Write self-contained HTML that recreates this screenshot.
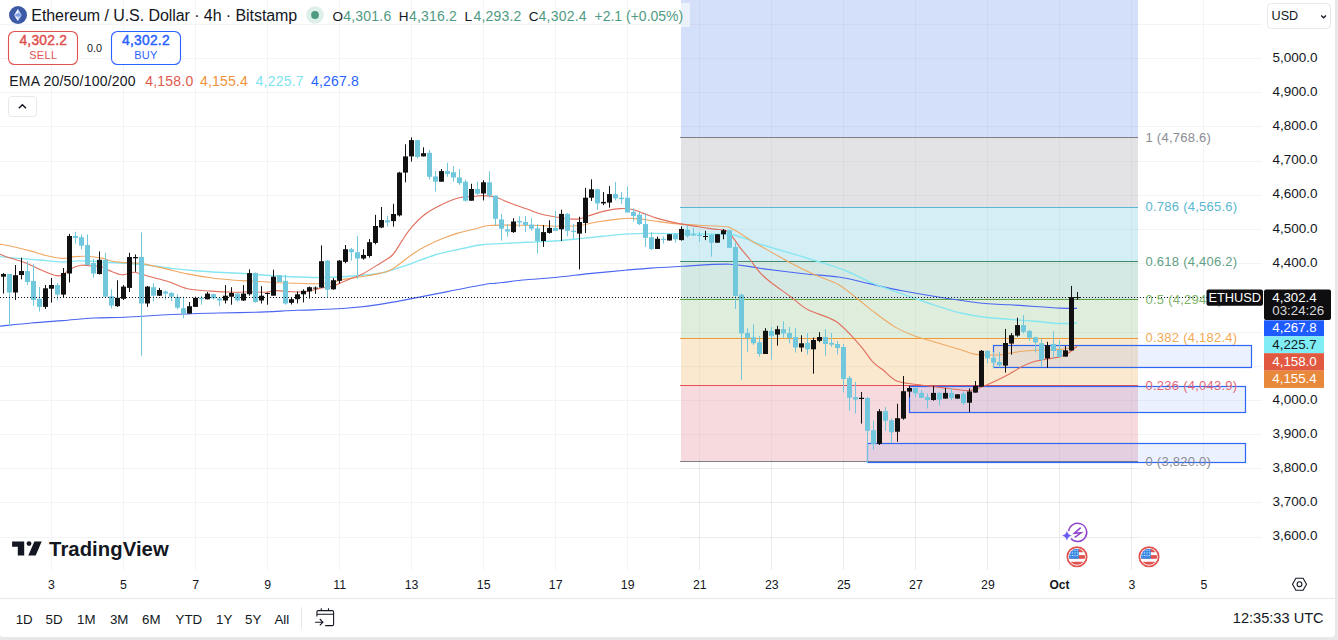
<!DOCTYPE html>
<html><head><meta charset="utf-8"><style>
html,body{margin:0;padding:0;width:1338px;height:640px;overflow:hidden;background:#e8e8e8;font-family:"Liberation Sans", sans-serif;}
#main{position:absolute;left:0;top:0;width:1335px;height:637px;background:#fff;border-radius:0 0 4px 3px;overflow:hidden;}
</style></head><body><div id="main">
<svg width="1335" height="637" style="position:absolute;left:0;top:0;font-family:'Liberation Sans', sans-serif">
<defs><clipPath id="fibclip"><rect x="681" y="0" width="457" height="570"/></clipPath></defs>
<rect x="51" y="0" width="1" height="570" fill="#f3f4f6"/><rect x="123" y="0" width="1" height="570" fill="#f3f4f6"/><rect x="195" y="0" width="1" height="570" fill="#f3f4f6"/><rect x="267" y="0" width="1" height="570" fill="#f3f4f6"/><rect x="339" y="0" width="1" height="570" fill="#f3f4f6"/><rect x="411" y="0" width="1" height="570" fill="#f3f4f6"/><rect x="483" y="0" width="1" height="570" fill="#f3f4f6"/><rect x="555" y="0" width="1" height="570" fill="#f3f4f6"/><rect x="627" y="0" width="1" height="570" fill="#f3f4f6"/><rect x="699" y="0" width="1" height="570" fill="#f3f4f6"/><rect x="771" y="0" width="1" height="570" fill="#f3f4f6"/><rect x="843" y="0" width="1" height="570" fill="#f3f4f6"/><rect x="915" y="0" width="1" height="570" fill="#f3f4f6"/><rect x="987" y="0" width="1" height="570" fill="#f3f4f6"/><rect x="1059" y="0" width="1" height="570" fill="#f3f4f6"/><rect x="1131" y="0" width="1" height="570" fill="#f3f4f6"/><rect x="1203" y="0" width="1" height="570" fill="#f3f4f6"/><rect x="0" y="24" width="1262" height="1" fill="#f3f4f6"/><rect x="0" y="58" width="1262" height="1" fill="#f3f4f6"/><rect x="0" y="92" width="1262" height="1" fill="#f3f4f6"/><rect x="0" y="126" width="1262" height="1" fill="#f3f4f6"/><rect x="0" y="161" width="1262" height="1" fill="#f3f4f6"/><rect x="0" y="195" width="1262" height="1" fill="#f3f4f6"/><rect x="0" y="229" width="1262" height="1" fill="#f3f4f6"/><rect x="0" y="263" width="1262" height="1" fill="#f3f4f6"/><rect x="0" y="297" width="1262" height="1" fill="#f3f4f6"/><rect x="0" y="332" width="1262" height="1" fill="#f3f4f6"/><rect x="0" y="366" width="1262" height="1" fill="#f3f4f6"/><rect x="0" y="400" width="1262" height="1" fill="#f3f4f6"/><rect x="0" y="434" width="1262" height="1" fill="#f3f4f6"/><rect x="0" y="468" width="1262" height="1" fill="#f3f4f6"/><rect x="0" y="502" width="1262" height="1" fill="#f3f4f6"/><rect x="0" y="537" width="1262" height="1" fill="#f3f4f6"/>
<rect x="681" y="0" width="457" height="137.7" fill="#d4dff9"/><rect x="681" y="137.7" width="457" height="69.4" fill="#e3e3e5"/><rect x="681" y="207.1" width="457" height="54.5" fill="#d3eef4"/><rect x="681" y="261.5" width="457" height="38.2" fill="#d5e9e4"/><rect x="681" y="299.8" width="457" height="38.2" fill="#dfeddd"/><rect x="681" y="338.0" width="457" height="47.3" fill="#fbe9cf"/><rect x="681" y="385.4" width="457" height="76.5" fill="#f6dadd"/>
<g clip-path="url(#fibclip)"><rect x="51" y="0" width="1" height="570" fill="rgba(120,123,134,0.07)"/><rect x="123" y="0" width="1" height="570" fill="rgba(120,123,134,0.07)"/><rect x="195" y="0" width="1" height="570" fill="rgba(120,123,134,0.07)"/><rect x="267" y="0" width="1" height="570" fill="rgba(120,123,134,0.07)"/><rect x="339" y="0" width="1" height="570" fill="rgba(120,123,134,0.07)"/><rect x="411" y="0" width="1" height="570" fill="rgba(120,123,134,0.07)"/><rect x="483" y="0" width="1" height="570" fill="rgba(120,123,134,0.07)"/><rect x="555" y="0" width="1" height="570" fill="rgba(120,123,134,0.07)"/><rect x="627" y="0" width="1" height="570" fill="rgba(120,123,134,0.07)"/><rect x="699" y="0" width="1" height="570" fill="rgba(120,123,134,0.07)"/><rect x="771" y="0" width="1" height="570" fill="rgba(120,123,134,0.07)"/><rect x="843" y="0" width="1" height="570" fill="rgba(120,123,134,0.07)"/><rect x="915" y="0" width="1" height="570" fill="rgba(120,123,134,0.07)"/><rect x="987" y="0" width="1" height="570" fill="rgba(120,123,134,0.07)"/><rect x="1059" y="0" width="1" height="570" fill="rgba(120,123,134,0.07)"/><rect x="1131" y="0" width="1" height="570" fill="rgba(120,123,134,0.07)"/><rect x="1203" y="0" width="1" height="570" fill="rgba(120,123,134,0.07)"/><rect x="0" y="24" width="1262" height="1" fill="rgba(120,123,134,0.07)"/><rect x="0" y="58" width="1262" height="1" fill="rgba(120,123,134,0.07)"/><rect x="0" y="92" width="1262" height="1" fill="rgba(120,123,134,0.07)"/><rect x="0" y="126" width="1262" height="1" fill="rgba(120,123,134,0.07)"/><rect x="0" y="161" width="1262" height="1" fill="rgba(120,123,134,0.07)"/><rect x="0" y="195" width="1262" height="1" fill="rgba(120,123,134,0.07)"/><rect x="0" y="229" width="1262" height="1" fill="rgba(120,123,134,0.07)"/><rect x="0" y="263" width="1262" height="1" fill="rgba(120,123,134,0.07)"/><rect x="0" y="297" width="1262" height="1" fill="rgba(120,123,134,0.07)"/><rect x="0" y="332" width="1262" height="1" fill="rgba(120,123,134,0.07)"/><rect x="0" y="366" width="1262" height="1" fill="rgba(120,123,134,0.07)"/><rect x="0" y="400" width="1262" height="1" fill="rgba(120,123,134,0.07)"/><rect x="0" y="434" width="1262" height="1" fill="rgba(120,123,134,0.07)"/><rect x="0" y="468" width="1262" height="1" fill="rgba(120,123,134,0.07)"/><rect x="0" y="502" width="1262" height="1" fill="rgba(120,123,134,0.07)"/><rect x="0" y="537" width="1262" height="1" fill="rgba(120,123,134,0.07)"/></g>
<rect x="680" y="137" width="458" height="1" fill="#7d7f88"/><rect x="680" y="207" width="458" height="1" fill="#5cb8d2"/><rect x="680" y="261" width="458" height="1" fill="#3f8a6c"/><rect x="680" y="299" width="458" height="1" fill="#5e9f46"/><rect x="680" y="338" width="458" height="1" fill="#ee9a35"/><rect x="680" y="385" width="458" height="1" fill="#e3505a"/><rect x="680" y="461" width="458" height="1" fill="#7d7f88"/>
<rect x="993.5" y="345.5" width="258.0" height="22.0" fill="rgba(41,98,255,0.09)" stroke="#2e66f5" stroke-width="1.2"/><rect x="909.5" y="386.5" width="336.0" height="26.0" fill="rgba(41,98,255,0.09)" stroke="#2e66f5" stroke-width="1.2"/><rect x="867.5" y="443.5" width="378.0" height="19.0" fill="rgba(41,98,255,0.09)" stroke="#2e66f5" stroke-width="1.2"/>
<path d="M0.0,326.1 C5.2,325.6 20.9,323.9 31.3,323.0 C41.7,322.1 52.1,321.4 62.5,320.6 C72.9,319.8 83.4,318.6 93.8,318.0 C104.2,317.4 112.0,317.8 125.0,317.2 C138.0,316.6 156.3,315.2 171.9,314.5 C187.5,313.8 205.0,313.4 218.8,313.0 C232.7,312.6 242.0,312.6 255.0,312.2 C268.0,311.8 283.1,310.9 296.9,310.3 C310.6,309.7 323.6,309.8 337.5,308.8 C351.4,307.8 356.2,308.3 380.0,304.4 C403.8,300.5 460.8,288.8 480.0,285.3 C499.2,281.8 487.3,284.3 495.0,283.4 C502.7,282.5 515.9,280.8 526.3,279.8 C536.7,278.8 547.1,278.2 557.5,277.2 C567.9,276.2 577.5,274.8 588.8,273.6 C600.0,272.5 614.6,271.2 625.0,270.3 C635.4,269.4 641.7,268.8 651.3,268.1 C660.9,267.4 669.5,267.0 682.5,266.3 C695.5,265.6 716.5,263.9 729.4,264.2 C742.3,264.5 747.6,266.7 760.0,268.3 C772.4,269.9 790.6,272.2 803.7,273.7 C816.8,275.1 827.8,275.4 838.7,277.0 C849.6,278.6 858.7,281.3 869.3,283.6 C879.9,285.9 889.3,288.4 902.1,290.8 C914.9,293.2 932.1,296.1 945.9,298.2 C959.7,300.3 974.3,302.4 985.0,303.5 C995.7,304.6 1001.7,304.3 1010.0,304.8 C1018.3,305.3 1026.7,305.9 1035.0,306.5 C1043.3,307.1 1053.0,307.8 1060.0,308.1 C1067.0,308.4 1074.2,308.3 1077.0,308.4" fill="none" stroke="#4a66f2" stroke-width="1.15" stroke-linejoin="round"/><path d="M0.0,256.6 C2.6,256.9 9.1,257.5 15.6,258.1 C22.1,258.7 31.2,259.4 39.0,260.0 C46.8,260.6 56.0,261.9 62.5,262.0 C69.0,262.1 72.8,261.0 78.0,260.9 C83.2,260.8 88.6,261.0 93.8,261.3 C99.0,261.6 104.2,262.2 109.4,262.5 C114.6,262.8 118.5,262.8 125.0,263.3 C131.5,263.8 140.6,264.5 148.4,265.3 C156.2,266.1 164.1,267.5 171.9,268.4 C179.7,269.3 187.5,270.1 195.3,270.8 C203.1,271.5 210.2,271.8 218.8,272.3 C227.4,272.8 236.5,273.2 246.9,273.9 C257.3,274.6 270.4,275.7 281.3,276.3 C292.2,276.9 303.1,277.4 312.5,277.5 C321.9,277.6 329.7,277.3 337.5,277.0 C345.3,276.7 352.3,276.1 359.4,275.5 C366.5,274.9 374.5,274.1 380.0,273.2 C385.5,272.2 387.3,271.4 392.5,269.8 C397.7,268.2 404.3,266.1 411.3,263.6 C418.3,261.1 426.9,257.4 434.7,255.0 C442.5,252.7 450.2,251.2 458.0,249.5 C465.8,247.8 475.4,245.7 481.6,244.8 C487.8,243.9 487.6,244.3 495.0,243.9 C502.4,243.5 515.9,242.8 526.3,242.3 C536.7,241.8 548.1,241.5 557.5,240.8 C566.9,240.2 574.7,239.2 582.5,238.4 C590.3,237.6 597.3,236.8 604.4,236.1 C611.5,235.4 617.2,234.5 625.0,234.1 C632.8,233.7 641.7,233.4 651.3,233.4 C660.9,233.4 672.1,233.7 682.5,233.8 C692.9,233.9 705.5,234.0 713.8,234.2 C722.1,234.3 726.5,233.7 732.5,234.7 C738.5,235.7 745.4,238.7 750.0,240.3 C754.6,241.9 748.1,240.5 760.0,244.2 C771.9,247.9 806.6,257.8 821.2,262.4 C835.8,266.9 838.8,268.0 847.5,271.5 C856.2,275.0 861.7,278.9 873.7,283.6 C885.7,288.4 908.7,296.2 919.4,300.0 C930.1,303.8 931.1,304.1 938.1,306.3 C945.1,308.5 953.8,311.5 961.6,313.3 C969.4,315.1 976.9,316.3 985.0,317.3 C993.1,318.3 1001.7,318.7 1010.0,319.4 C1018.3,320.1 1026.7,320.6 1035.0,321.3 C1043.3,322.0 1053.0,323.2 1060.0,323.5 C1067.0,323.8 1074.2,322.9 1077.0,322.8" fill="none" stroke="#86e6f1" stroke-width="1.4" stroke-linejoin="round"/><path d="M0.0,244.1 C2.6,244.6 10.4,246.0 15.6,247.2 C20.8,248.4 26.1,249.7 31.3,251.1 C36.5,252.5 41.7,254.6 46.9,255.8 C52.1,257.0 57.8,258.3 62.5,258.4 C67.2,258.5 70.8,257.0 75.0,256.6 C79.2,256.2 83.1,256.1 87.5,256.3 C91.9,256.6 97.4,257.3 101.6,258.1 C105.8,258.9 108.6,260.6 112.5,261.3 C116.4,262.1 120.3,262.2 125.0,262.6 C129.7,263.0 134.1,262.4 140.6,263.4 C147.1,264.4 156.2,266.6 164.0,268.4 C171.8,270.1 179.7,272.3 187.5,273.9 C195.3,275.5 203.1,276.8 210.9,277.8 C218.7,278.9 227.9,279.7 234.4,280.2 C240.9,280.7 243.5,280.5 250.0,280.9 C256.5,281.3 265.6,282.1 273.4,282.5 C281.2,282.9 289.9,283.1 296.9,283.3 C303.9,283.5 309.9,283.9 315.6,283.8 C321.3,283.7 326.6,283.2 331.3,282.5 C336.0,281.8 339.1,280.3 343.8,279.4 C348.5,278.5 353.4,278.0 359.4,277.0 C365.4,276.0 374.5,274.7 380.0,273.4 C385.5,272.1 387.3,272.1 392.5,269.0 C397.7,265.9 406.1,258.6 411.3,255.0 C416.5,251.4 418.6,249.9 423.8,247.2 C429.0,244.5 436.8,240.9 442.5,238.6 C448.2,236.2 452.8,234.7 458.0,233.1 C463.2,231.5 468.6,230.5 473.8,229.2 C479.0,227.9 482.0,226.2 489.4,225.5 C496.8,224.8 509.6,225.2 518.4,225.2 C527.1,225.2 534.1,225.4 541.9,225.6 C549.7,225.8 558.8,226.4 565.3,226.3 C571.8,226.2 575.7,225.9 580.9,225.2 C586.1,224.5 590.1,223.1 596.6,222.0 C603.1,220.9 614.0,219.5 620.0,218.9 C626.0,218.3 627.3,218.1 632.5,218.4 C637.7,218.7 644.3,219.6 651.3,220.5 C658.3,221.4 666.9,222.8 674.7,223.6 C682.5,224.4 689.5,224.7 698.1,225.2 C706.7,225.7 720.6,226.0 726.3,226.7 C732.0,227.3 729.9,227.8 732.5,229.1 C735.1,230.4 739.0,232.7 741.9,234.5 C744.8,236.3 747.0,238.1 750.0,240.0 C753.0,241.9 753.6,242.1 760.0,245.7 C766.4,249.3 779.3,256.8 788.4,261.7 C797.5,266.6 806.3,271.0 814.7,274.8 C823.1,278.6 831.2,280.4 838.7,284.7 C846.2,289.0 854.4,296.4 860.0,300.8 C865.6,305.2 866.8,306.6 872.5,310.9 C878.2,315.2 887.4,322.4 894.4,326.6 C901.4,330.8 907.4,333.2 914.7,335.9 C922.0,338.6 930.3,340.6 938.1,343.0 C945.9,345.4 955.4,348.1 961.6,350.0 C967.9,351.9 969.6,353.6 975.6,354.4 C981.6,355.2 991.8,355.2 997.5,355.0 C1003.2,354.8 1005.8,353.7 1010.0,353.1 C1014.2,352.5 1018.3,351.8 1022.5,351.3 C1026.7,350.8 1030.8,350.5 1035.0,350.3 C1039.2,350.1 1043.3,350.1 1047.5,350.0 C1051.7,349.9 1055.1,349.8 1060.0,349.4 C1064.9,348.9 1074.2,347.6 1077.0,347.3" fill="none" stroke="#efa864" stroke-width="1.1" stroke-linejoin="round"/><path d="M0.0,254.2 C1.3,254.7 3.9,256.0 7.8,257.3 C11.7,258.6 18.2,260.1 23.4,262.0 C28.6,263.9 33.8,266.8 39.0,269.0 C44.2,271.2 50.8,274.3 54.7,275.3 C58.6,276.3 59.9,276.1 62.5,275.0 C65.1,273.9 67.2,270.6 70.3,269.0 C73.4,267.4 77.9,265.7 81.3,265.2 C84.7,264.7 87.2,265.6 90.6,265.9 C94.0,266.1 98.5,265.9 101.6,266.7 C104.7,267.5 106.0,269.2 109.4,270.6 C112.8,272.0 117.7,274.5 121.9,274.8 C126.1,275.1 130.0,272.1 134.4,272.3 C138.8,272.6 142.7,274.7 148.4,276.3 C154.1,277.9 162.3,279.6 168.8,281.7 C175.3,283.8 180.5,287.2 187.5,288.8 C194.5,290.4 203.1,290.5 210.9,291.1 C218.7,291.7 227.9,292.1 234.4,292.2 C240.9,292.3 244.8,291.8 250.0,291.8 C255.2,291.8 261.2,292.4 265.6,292.2 C270.0,292.0 272.7,290.7 276.6,290.6 C280.5,290.5 284.3,291.4 289.0,291.6 C293.7,291.8 300.3,292.2 304.7,291.9 C309.1,291.5 312.7,290.1 315.6,289.5 C318.5,288.9 318.8,288.6 321.9,288.0 C325.0,287.4 330.2,286.9 334.4,285.6 C338.6,284.3 342.2,282.1 346.9,280.2 C351.6,278.2 357.0,276.7 362.5,273.9 C368.0,271.1 375.0,266.5 380.0,263.4 C385.0,260.2 388.9,258.8 392.5,255.0 C396.1,251.2 398.8,245.5 401.9,240.9 C405.0,236.3 407.6,232.0 411.3,227.7 C415.0,223.4 419.1,218.8 423.8,215.2 C428.5,211.5 433.7,208.7 439.4,205.8 C445.1,202.9 452.4,199.6 458.1,198.0 C463.8,196.4 469.7,196.8 473.8,196.4 C477.9,196.0 479.5,195.5 483.0,195.6 C486.5,195.7 490.4,195.7 495.0,197.0 C499.6,198.3 505.4,201.3 510.6,203.3 C515.8,205.3 521.1,207.0 526.3,208.8 C531.5,210.6 536.7,212.8 541.9,214.2 C547.1,215.6 552.8,216.5 557.5,217.3 C562.2,218.1 566.4,218.6 570.0,218.9 C573.6,219.2 576.3,219.4 579.4,218.9 C582.5,218.4 584.6,217.1 588.8,215.8 C593.0,214.5 599.2,212.3 604.4,211.1 C609.6,209.9 615.3,208.9 620.0,208.6 C624.7,208.3 628.6,208.7 632.5,209.5 C636.4,210.3 639.0,211.8 643.4,213.4 C647.8,215.0 653.0,217.2 659.0,218.9 C665.0,220.6 672.9,222.3 679.4,223.6 C685.9,224.9 692.4,225.8 698.1,226.7 C703.8,227.6 709.1,228.4 713.8,229.1 C718.5,229.8 723.2,229.3 726.3,230.6 C729.4,231.9 730.2,234.0 732.5,236.9 C734.8,239.8 737.4,244.0 740.3,247.8 C743.2,251.6 746.7,255.4 750.0,259.5 C753.3,263.6 756.5,268.8 760.0,272.6 C763.5,276.4 765.8,278.5 770.9,282.5 C776.0,286.5 784.4,292.1 790.6,296.7 C796.8,301.2 800.5,305.6 808.1,309.8 C815.8,314.0 827.9,315.9 836.5,321.8 C845.1,327.7 854.0,338.7 860.0,345.3 C866.0,351.9 868.6,357.5 872.5,361.7 C876.4,365.9 879.2,367.0 883.4,370.3 C887.6,373.6 891.0,378.8 897.5,381.3 C904.0,383.8 914.2,384.0 922.5,385.2 C930.8,386.4 939.7,387.4 947.5,388.3 C955.3,389.2 963.7,390.9 969.4,390.6 C975.1,390.3 978.5,387.9 981.9,386.7 C985.3,385.5 985.7,385.6 990.0,383.6 C994.3,381.7 1002.1,377.9 1007.5,375.0 C1012.9,372.1 1017.9,368.6 1022.5,366.3 C1027.1,364.0 1030.8,362.6 1035.0,361.3 C1039.2,360.1 1043.3,359.5 1047.5,358.8 C1051.7,358.1 1056.7,357.7 1060.0,356.9 C1063.3,356.1 1064.7,355.6 1067.5,353.8 C1070.3,352.0 1075.4,347.3 1077.0,346.0" fill="none" stroke="#e2705f" stroke-width="1.15" stroke-linejoin="round"/>
<rect x="3" y="273.0" width="1" height="20.6" fill="#111111"/><rect x="1" y="274.0" width="5" height="2.7" fill="#111111"/><rect x="9" y="274.0" width="1" height="52.0" fill="#71c7dc"/><rect x="7" y="274.0" width="5" height="18.5" fill="#71c7dc"/><rect x="15" y="265.0" width="1" height="35.0" fill="#111111"/><rect x="13" y="275.2" width="5" height="17.3" fill="#111111"/><rect x="21" y="257.7" width="1" height="21.7" fill="#111111"/><rect x="19" y="271.0" width="5" height="4.0" fill="#111111"/><rect x="27" y="261.3" width="1" height="23.7" fill="#71c7dc"/><rect x="25" y="271.0" width="5" height="11.0" fill="#71c7dc"/><rect x="33" y="264.0" width="1" height="42.0" fill="#71c7dc"/><rect x="31" y="281.0" width="5" height="19.0" fill="#71c7dc"/><rect x="39" y="287.0" width="1" height="24.5" fill="#71c7dc"/><rect x="37" y="298.8" width="5" height="8.1" fill="#71c7dc"/><rect x="45" y="285.0" width="1" height="24.0" fill="#111111"/><rect x="43" y="288.3" width="5" height="18.6" fill="#111111"/><rect x="51" y="278.0" width="1" height="24.6" fill="#111111"/><rect x="49" y="285.0" width="5" height="3.7" fill="#111111"/><rect x="57" y="283.0" width="1" height="17.5" fill="#71c7dc"/><rect x="55" y="285.0" width="5" height="9.6" fill="#71c7dc"/><rect x="63" y="268.0" width="1" height="29.8" fill="#111111"/><rect x="61" y="273.0" width="5" height="21.6" fill="#111111"/><rect x="69" y="233.9" width="1" height="48.5" fill="#111111"/><rect x="67" y="236.0" width="5" height="37.5" fill="#111111"/><rect x="75" y="231.8" width="1" height="11.8" fill="#71c7dc"/><rect x="73" y="236.0" width="5" height="2.0" fill="#71c7dc"/><rect x="81" y="234.5" width="1" height="14.8" fill="#71c7dc"/><rect x="79" y="237.2" width="5" height="8.5" fill="#71c7dc"/><rect x="87" y="234.5" width="1" height="30.5" fill="#71c7dc"/><rect x="85" y="245.0" width="5" height="20.0" fill="#71c7dc"/><rect x="93" y="258.8" width="1" height="18.9" fill="#71c7dc"/><rect x="91" y="263.0" width="5" height="10.5" fill="#71c7dc"/><rect x="99" y="251.4" width="1" height="23.2" fill="#111111"/><rect x="97" y="259.8" width="5" height="14.2" fill="#111111"/><rect x="105" y="252.8" width="1" height="43.9" fill="#71c7dc"/><rect x="103" y="259.8" width="5" height="36.9" fill="#71c7dc"/><rect x="111" y="289.3" width="1" height="19.0" fill="#71c7dc"/><rect x="109" y="296.3" width="5" height="9.3" fill="#71c7dc"/><rect x="117" y="280.3" width="1" height="26.6" fill="#111111"/><rect x="115" y="297.8" width="5" height="8.4" fill="#111111"/><rect x="123" y="285.0" width="1" height="15.0" fill="#111111"/><rect x="121" y="286.6" width="5" height="12.2" fill="#111111"/><rect x="129" y="252.8" width="1" height="39.2" fill="#111111"/><rect x="127" y="257.0" width="5" height="30.9" fill="#111111"/><rect x="135" y="254.5" width="1" height="17.3" fill="#111111"/><rect x="133" y="257.0" width="5" height="1.3" fill="#111111"/><rect x="141" y="232.4" width="1" height="123.4" fill="#71c7dc"/><rect x="139" y="257.0" width="5" height="46.5" fill="#71c7dc"/><rect x="147" y="286.0" width="1" height="20.9" fill="#111111"/><rect x="145" y="286.6" width="5" height="16.9" fill="#111111"/><rect x="153" y="283.0" width="1" height="18.4" fill="#71c7dc"/><rect x="151" y="287.2" width="5" height="8.5" fill="#71c7dc"/><rect x="159" y="287.9" width="1" height="8.1" fill="#111111"/><rect x="157" y="290.0" width="5" height="5.7" fill="#111111"/><rect x="165" y="290.4" width="1" height="8.9" fill="#71c7dc"/><rect x="163" y="291.5" width="5" height="2.1" fill="#71c7dc"/><rect x="171" y="292.0" width="1" height="9.0" fill="#71c7dc"/><rect x="169" y="293.0" width="5" height="3.7" fill="#71c7dc"/><rect x="177" y="294.2" width="1" height="15.2" fill="#71c7dc"/><rect x="175" y="297.0" width="5" height="10.7" fill="#71c7dc"/><rect x="183" y="296.7" width="1" height="21.5" fill="#71c7dc"/><rect x="181" y="308.3" width="5" height="5.3" fill="#71c7dc"/><rect x="189" y="302.0" width="1" height="11.6" fill="#111111"/><rect x="187" y="306.2" width="5" height="7.4" fill="#111111"/><rect x="195" y="296.7" width="1" height="10.2" fill="#111111"/><rect x="193" y="297.8" width="5" height="9.1" fill="#111111"/><rect x="201" y="295.7" width="1" height="9.0" fill="#71c7dc"/><rect x="199" y="297.8" width="5" height="1.5" fill="#71c7dc"/><rect x="207" y="292.0" width="1" height="7.3" fill="#111111"/><rect x="205" y="293.6" width="5" height="5.7" fill="#111111"/><rect x="213" y="293.6" width="1" height="5.7" fill="#71c7dc"/><rect x="211" y="294.2" width="5" height="4.2" fill="#71c7dc"/><rect x="219" y="297.2" width="1" height="9.0" fill="#71c7dc"/><rect x="217" y="298.4" width="5" height="2.1" fill="#71c7dc"/><rect x="225" y="285.1" width="1" height="18.4" fill="#111111"/><rect x="223" y="295.7" width="5" height="4.8" fill="#111111"/><rect x="231" y="287.2" width="1" height="17.5" fill="#111111"/><rect x="229" y="293.0" width="5" height="3.7" fill="#111111"/><rect x="237" y="293.0" width="1" height="8.4" fill="#71c7dc"/><rect x="235" y="293.6" width="5" height="6.9" fill="#71c7dc"/><rect x="243" y="285.1" width="1" height="15.9" fill="#111111"/><rect x="241" y="293.6" width="5" height="6.9" fill="#111111"/><rect x="249" y="269.3" width="1" height="26.4" fill="#111111"/><rect x="247" y="273.1" width="5" height="21.1" fill="#111111"/><rect x="255" y="272.5" width="1" height="30.1" fill="#71c7dc"/><rect x="253" y="273.1" width="5" height="28.9" fill="#71c7dc"/><rect x="261" y="286.2" width="1" height="17.3" fill="#111111"/><rect x="259" y="295.7" width="5" height="4.8" fill="#111111"/><rect x="267" y="292.5" width="1" height="12.2" fill="#111111"/><rect x="265" y="293.0" width="5" height="1.0" fill="#111111"/><rect x="273" y="269.7" width="1" height="26.0" fill="#111111"/><rect x="271" y="276.7" width="5" height="19.0" fill="#111111"/><rect x="279" y="275.2" width="1" height="6.8" fill="#71c7dc"/><rect x="277" y="275.2" width="5" height="6.8" fill="#71c7dc"/><rect x="285" y="274.6" width="1" height="30.1" fill="#71c7dc"/><rect x="283" y="280.9" width="5" height="22.6" fill="#71c7dc"/><rect x="291" y="297.7" width="1" height="6.8" fill="#111111"/><rect x="289" y="299.2" width="5" height="3.6" fill="#111111"/><rect x="297" y="291.4" width="1" height="12.0" fill="#111111"/><rect x="295" y="294.3" width="5" height="4.9" fill="#111111"/><rect x="303" y="289.3" width="1" height="13.1" fill="#111111"/><rect x="301" y="290.8" width="5" height="3.5" fill="#111111"/><rect x="309" y="286.5" width="1" height="12.1" fill="#111111"/><rect x="307" y="287.2" width="5" height="4.2" fill="#111111"/><rect x="315" y="286.5" width="1" height="7.4" fill="#111111"/><rect x="313" y="287.6" width="5" height="1.0" fill="#111111"/><rect x="321" y="245.4" width="1" height="42.6" fill="#111111"/><rect x="319" y="261.2" width="5" height="26.4" fill="#111111"/><rect x="327" y="260.2" width="1" height="36.9" fill="#71c7dc"/><rect x="325" y="260.6" width="5" height="29.1" fill="#71c7dc"/><rect x="333" y="278.1" width="1" height="11.6" fill="#111111"/><rect x="331" y="280.2" width="5" height="9.1" fill="#111111"/><rect x="339" y="260.2" width="1" height="23.2" fill="#111111"/><rect x="337" y="260.6" width="5" height="20.2" fill="#111111"/><rect x="345" y="245.0" width="1" height="18.3" fill="#111111"/><rect x="343" y="249.2" width="5" height="12.7" fill="#111111"/><rect x="351" y="248.0" width="1" height="12.6" fill="#71c7dc"/><rect x="349" y="249.2" width="5" height="3.0" fill="#71c7dc"/><rect x="357" y="235.9" width="1" height="42.8" fill="#71c7dc"/><rect x="355" y="252.2" width="5" height="6.3" fill="#71c7dc"/><rect x="363" y="249.2" width="1" height="10.5" fill="#111111"/><rect x="361" y="254.9" width="5" height="3.6" fill="#111111"/><rect x="369" y="239.1" width="1" height="18.5" fill="#111111"/><rect x="367" y="242.2" width="5" height="13.8" fill="#111111"/><rect x="375" y="214.8" width="1" height="29.5" fill="#111111"/><rect x="373" y="226.0" width="5" height="16.9" fill="#111111"/><rect x="381" y="207.0" width="1" height="21.1" fill="#111111"/><rect x="379" y="220.0" width="5" height="7.5" fill="#111111"/><rect x="387" y="216.0" width="1" height="10.6" fill="#71c7dc"/><rect x="385" y="220.3" width="5" height="2.1" fill="#71c7dc"/><rect x="393" y="203.8" width="1" height="22.8" fill="#111111"/><rect x="391" y="214.0" width="5" height="7.1" fill="#111111"/><rect x="399" y="171.8" width="1" height="44.7" fill="#111111"/><rect x="397" y="172.6" width="5" height="42.8" fill="#111111"/><rect x="405" y="144.3" width="1" height="38.0" fill="#111111"/><rect x="403" y="156.4" width="5" height="16.2" fill="#111111"/><rect x="411" y="137.4" width="1" height="24.2" fill="#111111"/><rect x="409" y="140.1" width="5" height="16.3" fill="#111111"/><rect x="417" y="140.1" width="1" height="18.4" fill="#71c7dc"/><rect x="415" y="140.1" width="5" height="16.9" fill="#71c7dc"/><rect x="423" y="147.3" width="1" height="9.1" fill="#111111"/><rect x="421" y="153.2" width="5" height="3.2" fill="#111111"/><rect x="429" y="150.0" width="1" height="29.6" fill="#71c7dc"/><rect x="427" y="152.8" width="5" height="24.0" fill="#71c7dc"/><rect x="435" y="171.1" width="1" height="20.5" fill="#71c7dc"/><rect x="433" y="176.4" width="5" height="5.3" fill="#71c7dc"/><rect x="441" y="169.0" width="1" height="12.7" fill="#111111"/><rect x="439" y="171.1" width="5" height="10.6" fill="#111111"/><rect x="447" y="162.7" width="1" height="14.1" fill="#71c7dc"/><rect x="445" y="171.1" width="5" height="2.8" fill="#71c7dc"/><rect x="453" y="166.3" width="1" height="15.4" fill="#71c7dc"/><rect x="451" y="172.2" width="5" height="5.3" fill="#71c7dc"/><rect x="459" y="169.0" width="1" height="15.9" fill="#71c7dc"/><rect x="457" y="177.5" width="5" height="5.7" fill="#71c7dc"/><rect x="465" y="179.6" width="1" height="22.1" fill="#71c7dc"/><rect x="463" y="181.7" width="5" height="19.0" fill="#71c7dc"/><rect x="471" y="183.8" width="1" height="16.9" fill="#111111"/><rect x="469" y="189.0" width="5" height="11.7" fill="#111111"/><rect x="477" y="181.7" width="1" height="13.7" fill="#71c7dc"/><rect x="475" y="189.0" width="5" height="4.7" fill="#71c7dc"/><rect x="483" y="180.2" width="1" height="20.2" fill="#111111"/><rect x="481" y="182.3" width="5" height="11.2" fill="#111111"/><rect x="489" y="171.3" width="1" height="26.4" fill="#71c7dc"/><rect x="487" y="182.3" width="5" height="13.3" fill="#71c7dc"/><rect x="495" y="195.6" width="1" height="29.5" fill="#71c7dc"/><rect x="493" y="195.6" width="5" height="23.2" fill="#71c7dc"/><rect x="501" y="214.0" width="1" height="26.5" fill="#71c7dc"/><rect x="499" y="219.4" width="5" height="9.3" fill="#71c7dc"/><rect x="507" y="224.0" width="1" height="12.7" fill="#71c7dc"/><rect x="505" y="229.3" width="5" height="2.2" fill="#71c7dc"/><rect x="513" y="218.2" width="1" height="14.7" fill="#111111"/><rect x="511" y="221.5" width="5" height="10.6" fill="#111111"/><rect x="519" y="216.0" width="1" height="11.2" fill="#71c7dc"/><rect x="517" y="220.9" width="5" height="1.5" fill="#71c7dc"/><rect x="525" y="216.0" width="1" height="16.1" fill="#71c7dc"/><rect x="523" y="222.0" width="5" height="3.1" fill="#71c7dc"/><rect x="531" y="218.2" width="1" height="12.6" fill="#71c7dc"/><rect x="529" y="224.5" width="5" height="4.2" fill="#71c7dc"/><rect x="537" y="224.0" width="1" height="29.6" fill="#71c7dc"/><rect x="535" y="228.3" width="5" height="12.7" fill="#71c7dc"/><rect x="543" y="225.1" width="1" height="21.8" fill="#111111"/><rect x="541" y="232.1" width="5" height="8.9" fill="#111111"/><rect x="549" y="220.3" width="1" height="13.3" fill="#111111"/><rect x="547" y="227.9" width="5" height="5.0" fill="#111111"/><rect x="555" y="211.0" width="1" height="19.8" fill="#71c7dc"/><rect x="553" y="227.9" width="5" height="2.9" fill="#71c7dc"/><rect x="561" y="209.7" width="1" height="31.3" fill="#111111"/><rect x="559" y="213.9" width="5" height="15.4" fill="#111111"/><rect x="567" y="213.1" width="1" height="23.2" fill="#71c7dc"/><rect x="565" y="213.9" width="5" height="16.9" fill="#71c7dc"/><rect x="573" y="224.0" width="1" height="14.8" fill="#71c7dc"/><rect x="571" y="230.8" width="5" height="1.3" fill="#71c7dc"/><rect x="579" y="216.7" width="1" height="52.7" fill="#111111"/><rect x="577" y="222.0" width="5" height="11.6" fill="#111111"/><rect x="585" y="187.8" width="1" height="45.1" fill="#111111"/><rect x="583" y="197.7" width="5" height="25.3" fill="#111111"/><rect x="591" y="179.3" width="1" height="21.6" fill="#111111"/><rect x="589" y="189.3" width="5" height="8.4" fill="#111111"/><rect x="597" y="188.6" width="1" height="21.1" fill="#71c7dc"/><rect x="595" y="189.3" width="5" height="14.1" fill="#71c7dc"/><rect x="603" y="192.0" width="1" height="13.1" fill="#111111"/><rect x="601" y="201.9" width="5" height="1.5" fill="#111111"/><rect x="609" y="186.1" width="1" height="21.5" fill="#111111"/><rect x="607" y="194.1" width="5" height="8.5" fill="#111111"/><rect x="615" y="181.9" width="1" height="18.5" fill="#71c7dc"/><rect x="613" y="194.1" width="5" height="4.2" fill="#71c7dc"/><rect x="621" y="192.0" width="1" height="12.0" fill="#71c7dc"/><rect x="619" y="197.7" width="5" height="1.5" fill="#71c7dc"/><rect x="627" y="186.5" width="1" height="26.0" fill="#71c7dc"/><rect x="625" y="197.7" width="5" height="14.8" fill="#71c7dc"/><rect x="633" y="208.2" width="1" height="13.3" fill="#71c7dc"/><rect x="631" y="211.8" width="5" height="4.2" fill="#71c7dc"/><rect x="639" y="211.8" width="1" height="13.3" fill="#71c7dc"/><rect x="637" y="214.6" width="5" height="9.5" fill="#71c7dc"/><rect x="645" y="213.5" width="1" height="33.4" fill="#71c7dc"/><rect x="643" y="224.1" width="5" height="13.7" fill="#71c7dc"/><rect x="651" y="232.1" width="1" height="17.7" fill="#71c7dc"/><rect x="649" y="237.2" width="5" height="11.8" fill="#71c7dc"/><rect x="657" y="236.7" width="1" height="12.3" fill="#111111"/><rect x="655" y="238.8" width="5" height="10.2" fill="#111111"/><rect x="663" y="236.3" width="1" height="7.2" fill="#71c7dc"/><rect x="661" y="238.8" width="5" height="1.1" fill="#71c7dc"/><rect x="669" y="234.2" width="1" height="6.3" fill="#111111"/><rect x="667" y="234.2" width="5" height="6.3" fill="#111111"/><rect x="675" y="233.4" width="1" height="9.3" fill="#71c7dc"/><rect x="673" y="234.2" width="5" height="5.1" fill="#71c7dc"/><rect x="681" y="226.4" width="1" height="14.2" fill="#111111"/><rect x="679" y="229.0" width="5" height="11.1" fill="#111111"/><rect x="687" y="225.2" width="1" height="12.3" fill="#71c7dc"/><rect x="685" y="229.8" width="5" height="6.2" fill="#71c7dc"/><rect x="693" y="227.7" width="1" height="8.3" fill="#71c7dc"/><rect x="691" y="234.2" width="5" height="1.3" fill="#71c7dc"/><rect x="699" y="231.6" width="1" height="10.3" fill="#71c7dc"/><rect x="697" y="235.0" width="5" height="1.0" fill="#71c7dc"/><rect x="705" y="230.8" width="1" height="9.3" fill="#111111"/><rect x="703" y="236.0" width="5" height="1.0" fill="#111111"/><rect x="711" y="234.2" width="1" height="22.4" fill="#71c7dc"/><rect x="709" y="235.0" width="5" height="7.7" fill="#71c7dc"/><rect x="717" y="234.2" width="1" height="8.5" fill="#111111"/><rect x="715" y="234.2" width="5" height="8.5" fill="#111111"/><rect x="723" y="229.0" width="1" height="10.3" fill="#111111"/><rect x="721" y="230.3" width="5" height="3.9" fill="#111111"/><rect x="729" y="229.8" width="1" height="18.0" fill="#71c7dc"/><rect x="727" y="230.3" width="5" height="17.5" fill="#71c7dc"/><rect x="735" y="242.7" width="1" height="66.2" fill="#71c7dc"/><rect x="733" y="247.0" width="5" height="49.0" fill="#71c7dc"/><rect x="741" y="293.5" width="1" height="86.3" fill="#71c7dc"/><rect x="739" y="294.7" width="5" height="38.7" fill="#71c7dc"/><rect x="747" y="328.2" width="1" height="23.8" fill="#71c7dc"/><rect x="745" y="332.9" width="5" height="5.1" fill="#71c7dc"/><rect x="753" y="324.4" width="1" height="20.6" fill="#71c7dc"/><rect x="751" y="337.3" width="5" height="5.9" fill="#71c7dc"/><rect x="759" y="336.0" width="1" height="20.6" fill="#71c7dc"/><rect x="757" y="342.4" width="5" height="11.6" fill="#71c7dc"/><rect x="765" y="328.2" width="1" height="25.8" fill="#111111"/><rect x="763" y="330.8" width="5" height="23.2" fill="#111111"/><rect x="771" y="326.9" width="1" height="32.7" fill="#71c7dc"/><rect x="769" y="331.0" width="5" height="4.8" fill="#71c7dc"/><rect x="777" y="325.9" width="1" height="19.7" fill="#111111"/><rect x="775" y="329.2" width="5" height="5.4" fill="#111111"/><rect x="783" y="321.2" width="1" height="16.4" fill="#71c7dc"/><rect x="781" y="329.2" width="5" height="4.2" fill="#71c7dc"/><rect x="789" y="326.9" width="1" height="16.4" fill="#71c7dc"/><rect x="787" y="333.0" width="5" height="5.1" fill="#71c7dc"/><rect x="795" y="328.3" width="1" height="24.3" fill="#71c7dc"/><rect x="793" y="337.0" width="5" height="10.5" fill="#71c7dc"/><rect x="801" y="335.3" width="1" height="16.4" fill="#111111"/><rect x="799" y="343.3" width="5" height="4.2" fill="#111111"/><rect x="807" y="333.0" width="1" height="21.5" fill="#71c7dc"/><rect x="805" y="342.8" width="5" height="6.5" fill="#71c7dc"/><rect x="813" y="337.6" width="1" height="36.1" fill="#111111"/><rect x="811" y="340.0" width="5" height="9.3" fill="#111111"/><rect x="819" y="332.2" width="1" height="10.1" fill="#111111"/><rect x="817" y="337.0" width="5" height="3.9" fill="#111111"/><rect x="825" y="329.2" width="1" height="26.5" fill="#71c7dc"/><rect x="823" y="337.0" width="5" height="7.0" fill="#71c7dc"/><rect x="831" y="333.0" width="1" height="14.0" fill="#71c7dc"/><rect x="829" y="342.8" width="5" height="1.9" fill="#71c7dc"/><rect x="837" y="340.9" width="1" height="13.6" fill="#71c7dc"/><rect x="835" y="344.0" width="5" height="4.0" fill="#71c7dc"/><rect x="843" y="344.0" width="1" height="48.4" fill="#71c7dc"/><rect x="841" y="347.0" width="5" height="32.0" fill="#71c7dc"/><rect x="849" y="376.0" width="1" height="34.7" fill="#71c7dc"/><rect x="847" y="377.9" width="5" height="19.9" fill="#71c7dc"/><rect x="855" y="382.1" width="1" height="31.4" fill="#71c7dc"/><rect x="853" y="397.1" width="5" height="2.4" fill="#71c7dc"/><rect x="861" y="392.0" width="1" height="31.6" fill="#111111"/><rect x="859" y="397.8" width="5" height="1.2" fill="#111111"/><rect x="867" y="397.0" width="1" height="65.9" fill="#71c7dc"/><rect x="865" y="398.0" width="5" height="32.8" fill="#71c7dc"/><rect x="873" y="420.7" width="1" height="29.1" fill="#71c7dc"/><rect x="871" y="430.2" width="5" height="13.7" fill="#71c7dc"/><rect x="879" y="409.1" width="1" height="35.9" fill="#111111"/><rect x="877" y="411.2" width="5" height="32.7" fill="#111111"/><rect x="885" y="407.0" width="1" height="23.8" fill="#71c7dc"/><rect x="883" y="411.2" width="5" height="9.5" fill="#71c7dc"/><rect x="891" y="418.6" width="1" height="24.3" fill="#71c7dc"/><rect x="889" y="420.3" width="5" height="12.0" fill="#71c7dc"/><rect x="897" y="403.8" width="1" height="38.0" fill="#111111"/><rect x="895" y="418.2" width="5" height="13.5" fill="#111111"/><rect x="903" y="376.0" width="1" height="43.7" fill="#111111"/><rect x="901" y="391.2" width="5" height="27.4" fill="#111111"/><rect x="909" y="385.9" width="1" height="11.2" fill="#111111"/><rect x="907" y="388.0" width="5" height="3.6" fill="#111111"/><rect x="915" y="387.4" width="1" height="9.7" fill="#71c7dc"/><rect x="913" y="388.0" width="5" height="5.3" fill="#71c7dc"/><rect x="921" y="390.1" width="1" height="7.8" fill="#71c7dc"/><rect x="919" y="392.9" width="5" height="5.0" fill="#71c7dc"/><rect x="927" y="393.3" width="1" height="15.2" fill="#71c7dc"/><rect x="925" y="397.1" width="5" height="2.9" fill="#71c7dc"/><rect x="933" y="385.9" width="1" height="14.8" fill="#111111"/><rect x="931" y="392.9" width="5" height="7.1" fill="#111111"/><rect x="939" y="392.2" width="1" height="13.3" fill="#71c7dc"/><rect x="937" y="392.9" width="5" height="6.7" fill="#71c7dc"/><rect x="945" y="388.0" width="1" height="10.6" fill="#111111"/><rect x="943" y="392.9" width="5" height="5.7" fill="#111111"/><rect x="951" y="388.0" width="1" height="12.0" fill="#71c7dc"/><rect x="949" y="392.9" width="5" height="5.0" fill="#71c7dc"/><rect x="957" y="394.3" width="1" height="4.3" fill="#111111"/><rect x="955" y="394.3" width="5" height="4.3" fill="#111111"/><rect x="963" y="391.5" width="1" height="13.3" fill="#71c7dc"/><rect x="961" y="393.6" width="5" height="9.5" fill="#71c7dc"/><rect x="969" y="388.4" width="1" height="23.6" fill="#111111"/><rect x="967" y="391.5" width="5" height="11.2" fill="#111111"/><rect x="975" y="381.0" width="1" height="11.6" fill="#111111"/><rect x="973" y="385.8" width="5" height="6.8" fill="#111111"/><rect x="981" y="350.0" width="1" height="36.7" fill="#111111"/><rect x="979" y="350.8" width="5" height="35.9" fill="#111111"/><rect x="987" y="350.4" width="1" height="13.1" fill="#71c7dc"/><rect x="985" y="350.8" width="5" height="7.6" fill="#71c7dc"/><rect x="993" y="352.0" width="1" height="16.3" fill="#71c7dc"/><rect x="991" y="357.8" width="5" height="4.8" fill="#71c7dc"/><rect x="999" y="352.0" width="1" height="15.3" fill="#71c7dc"/><rect x="997" y="362.0" width="5" height="3.2" fill="#71c7dc"/><rect x="1005" y="328.9" width="1" height="43.7" fill="#111111"/><rect x="1003" y="343.0" width="5" height="22.6" fill="#111111"/><rect x="1011" y="333.1" width="1" height="21.5" fill="#111111"/><rect x="1009" y="335.2" width="5" height="8.4" fill="#111111"/><rect x="1017" y="317.7" width="1" height="19.0" fill="#111111"/><rect x="1015" y="325.1" width="5" height="10.5" fill="#111111"/><rect x="1023" y="315.0" width="1" height="18.5" fill="#71c7dc"/><rect x="1021" y="325.1" width="5" height="6.7" fill="#71c7dc"/><rect x="1029" y="329.7" width="1" height="11.2" fill="#71c7dc"/><rect x="1027" y="331.0" width="5" height="6.7" fill="#71c7dc"/><rect x="1035" y="336.7" width="1" height="15.8" fill="#71c7dc"/><rect x="1033" y="337.3" width="5" height="5.1" fill="#71c7dc"/><rect x="1041" y="339.0" width="1" height="27.4" fill="#71c7dc"/><rect x="1039" y="343.2" width="5" height="16.6" fill="#71c7dc"/><rect x="1047" y="341.8" width="1" height="26.0" fill="#111111"/><rect x="1045" y="345.3" width="5" height="13.1" fill="#111111"/><rect x="1053" y="331.3" width="1" height="27.1" fill="#71c7dc"/><rect x="1051" y="344.0" width="5" height="7.0" fill="#71c7dc"/><rect x="1059" y="340.1" width="1" height="16.9" fill="#71c7dc"/><rect x="1057" y="350.0" width="5" height="7.0" fill="#71c7dc"/><rect x="1065" y="346.0" width="1" height="10.6" fill="#111111"/><rect x="1063" y="350.3" width="5" height="6.3" fill="#111111"/><rect x="1071" y="285.9" width="1" height="64.6" fill="#111111"/><rect x="1069" y="297.1" width="5" height="53.4" fill="#111111"/><rect x="1077" y="292.0" width="1" height="7.7" fill="#111111"/><rect x="1075" y="297.1" width="5" height="1.0" fill="#111111"/>
<line x1="0" y1="297.5" x2="1262" y2="297.5" stroke="#131722" stroke-width="1" stroke-dasharray="1,2"/>
<text x="1145.5" y="142.0" fill="#8a8c94" font-size="13" letter-spacing="0.25">1 (4,768.6)</text><text x="1145.5" y="211.4" fill="#5ab7d0" font-size="13" letter-spacing="0.25">0.786 (4,565.6)</text><text x="1145.5" y="265.8" fill="#5f9f86" font-size="13" letter-spacing="0.25">0.618 (4,406.2)</text><text x="1145.5" y="304.1" fill="#7eb56a" font-size="13" letter-spacing="0.25">0.5 (4,294.3)</text><text x="1145.5" y="342.3" fill="#f2aa55" font-size="13" letter-spacing="0.25">0.382 (4,182.4)</text><text x="1145.5" y="389.7" fill="#e26878" font-size="13" letter-spacing="0.25">0.236 (4,043.9)</text><text x="1145.5" y="466.2" fill="#8a8c94" font-size="13" letter-spacing="0.25">0 (3,820.0)</text>
<text x="1272.5" y="61.7" fill="#131722" font-size="13.5">5,000.0</text><text x="1272.5" y="95.9" fill="#131722" font-size="13.5">4,900.0</text><text x="1272.5" y="130.0" fill="#131722" font-size="13.5">4,800.0</text><text x="1272.5" y="164.2" fill="#131722" font-size="13.5">4,700.0</text><text x="1272.5" y="198.4" fill="#131722" font-size="13.5">4,600.0</text><text x="1272.5" y="232.6" fill="#131722" font-size="13.5">4,500.0</text><text x="1272.5" y="266.8" fill="#131722" font-size="13.5">4,400.0</text><text x="1272.5" y="403.5" fill="#131722" font-size="13.5">4,000.0</text><text x="1272.5" y="437.7" fill="#131722" font-size="13.5">3,900.0</text><text x="1272.5" y="471.8" fill="#131722" font-size="13.5">3,800.0</text><text x="1272.5" y="506.0" fill="#131722" font-size="13.5">3,700.0</text><text x="1272.5" y="540.2" fill="#131722" font-size="13.5">3,600.0</text>
<text x="51.5" y="588.7" fill="#131722" font-size="12.3" text-anchor="middle">3</text><text x="123.5" y="588.7" fill="#131722" font-size="12.3" text-anchor="middle">5</text><text x="195.6" y="588.7" fill="#131722" font-size="12.3" text-anchor="middle">7</text><text x="267.6" y="588.7" fill="#131722" font-size="12.3" text-anchor="middle">9</text><text x="339.6" y="588.7" fill="#131722" font-size="12.3" text-anchor="middle">11</text><text x="411.6" y="588.7" fill="#131722" font-size="12.3" text-anchor="middle">13</text><text x="483.7" y="588.7" fill="#131722" font-size="12.3" text-anchor="middle">15</text><text x="555.7" y="588.7" fill="#131722" font-size="12.3" text-anchor="middle">17</text><text x="627.7" y="588.7" fill="#131722" font-size="12.3" text-anchor="middle">19</text><text x="699.8" y="588.7" fill="#131722" font-size="12.3" text-anchor="middle">21</text><text x="771.8" y="588.7" fill="#131722" font-size="12.3" text-anchor="middle">23</text><text x="843.8" y="588.7" fill="#131722" font-size="12.3" text-anchor="middle">25</text><text x="915.9" y="588.7" fill="#131722" font-size="12.3" text-anchor="middle">27</text><text x="987.9" y="588.7" fill="#131722" font-size="12.3" text-anchor="middle">29</text><text x="1059.4" y="588.7" fill="#131722" font-size="12" font-weight="700" text-anchor="middle">Oct</text><text x="1132.0" y="588.7" fill="#131722" font-size="12.3" text-anchor="middle">3</text><text x="1204.0" y="588.7" fill="#131722" font-size="12.3" text-anchor="middle">5</text>
<rect x="681" y="3" width="9" height="24" fill="rgba(255,255,255,0.55)"/><circle cx="18" cy="15" r="9" fill="#3d5aa6"/><path d="M18,9 L21.7,14.9 L18,21.1 L14.3,14.9 Z" fill="#c3d3f6"/><path d="M18,9 L14.3,14.9 L18,16.9 Z" fill="#f2f6ff"/><path d="M14.3,14.9 L18,12.9 L21.7,14.9 L18,16.9 Z" fill="#7f9de6"/><path d="M14.3,15.8 L18,21.1 L18,17.9 Z" fill="#eaf0fe"/><text x="31.3" y="20.9" fill="#131722" font-size="16" letter-spacing="-0.07">Ethereum / U.S. Dollar · 4h · Bitstamp</text><circle cx="315" cy="15" r="8.8" fill="#dff0eb"/><circle cx="315" cy="15" r="3.9" fill="#4f9a82"/><text x="332.5" y="20.5" fill="#131722" font-size="13.5" letter-spacing="0">O</text><text x="343.3" y="20.5" fill="#4f9a82" font-size="14" letter-spacing="0.2">4,301.6</text><text x="398.7" y="20.5" fill="#131722" font-size="13.5" letter-spacing="0">H</text><text x="409.0" y="20.5" fill="#4f9a82" font-size="14" letter-spacing="0.2">4,316.2</text><text x="464.4" y="20.5" fill="#131722" font-size="13.5" letter-spacing="0">L</text><text x="473.5" y="20.5" fill="#4f9a82" font-size="14" letter-spacing="0.2">4,293.2</text><text x="528.7" y="20.5" fill="#131722" font-size="13.5" letter-spacing="0">C</text><text x="538.6" y="20.5" fill="#4f9a82" font-size="14" letter-spacing="0.2">4,302.4</text><text x="594.5" y="20.5" fill="#4f9a82" font-size="14" letter-spacing="0">+2.1 (+0.05%)</text><rect x="8.5" y="31.5" width="69" height="33" rx="6" fill="#fff" stroke="#e0514f" stroke-width="1.1"/><text x="43.3" y="44.9" fill="#e0514f" font-size="13.8" text-anchor="middle" letter-spacing="0.25" stroke="#e0514f" stroke-width="0.45">4,302.2</text><text x="43.3" y="58.8" fill="#e0514f" font-size="11" text-anchor="middle" letter-spacing="0.3">SELL</text><text x="94.5" y="52.2" fill="#131722" font-size="10.8" text-anchor="middle">0.0</text><rect x="111.5" y="31.5" width="69" height="33" rx="6" fill="#fff" stroke="#2962ff" stroke-width="1.1"/><text x="146" y="44.9" fill="#2962ff" font-size="13.8" text-anchor="middle" letter-spacing="0.25" stroke="#2962ff" stroke-width="0.45">4,302.2</text><text x="146" y="58.8" fill="#2962ff" font-size="11" text-anchor="middle" letter-spacing="0.3">BUY</text><text x="9.3" y="85.6" fill="#131722" font-size="14" letter-spacing="0.2">EMA 20/50/100/200</text><text x="145.3" y="85.6" fill="#e0584a" font-size="14" letter-spacing="0.2">4,158.0</text><text x="199.9" y="85.6" fill="#f0933a" font-size="14" letter-spacing="0.2">4,155.4</text><text x="255.6" y="85.6" fill="#7fe3ef" font-size="14" letter-spacing="0.2">4,225.7</text><text x="311" y="85.6" fill="#2962ff" font-size="14" letter-spacing="0.2">4,267.8</text><rect x="8.5" y="96.5" width="28" height="20" rx="3" fill="#fff" stroke="#e8e8e9" stroke-width="1"/><path d="M18.8,108.3 L22.4,104.8 L26,108.3" fill="none" stroke="#131722" stroke-width="1.5"/>
<rect x="1267.5" y="3.5" width="63" height="25" rx="4" fill="#fff" stroke="#e8e8e9" stroke-width="1"/><text x="1271.6" y="20.3" fill="#131722" font-size="12.6">USD</text><path d="M1321.2,15.6 L1323.6,17.8 L1326,15.6" fill="none" stroke="#131722" stroke-width="1.3"/><rect x="1206.5" y="289.4" width="56.5" height="16.4" rx="2" fill="#0e0e10"/><text x="1234.8" y="302" fill="#fff" font-size="12.8" text-anchor="middle">ETHUSD</text><rect x="1264" y="289.4" width="67" height="30.5" rx="2" fill="#0e0e10"/><text x="1272.3" y="302" fill="#fff" font-size="13.3">4,302.4</text><text x="1272.3" y="315.2" fill="#d8d8dc" font-size="13.3">03:24:26</text><rect x="1264" y="320.3" width="60" height="16.0" fill="#1f5cff"/><text x="1272.3" y="331.6" fill="#fff" font-size="13.3">4,267.8</text><rect x="1264" y="336.3" width="60" height="16.9" fill="#80edf5"/><text x="1272.3" y="348.5" fill="#131722" font-size="13.3">4,225.7</text><rect x="1264" y="353.2" width="60" height="17.5" fill="#e05940"/><text x="1272.3" y="366.0" fill="#fff" font-size="13.3">4,158.0</text><rect x="1264" y="370.7" width="60" height="17.2" fill="#e8883a"/><text x="1272.3" y="383.2" fill="#fff" font-size="13.3">4,155.4</text>
<path d="M12.1,541.4 H24.2 V555.6 H17.8 V546.8 H12.1 Z" fill="#131722"/><circle cx="29" cy="543.6" r="2.4" fill="#131722"/><path d="M34.4,541.4 H41.7 L35.7,555.6 H28.3 Z" fill="#131722"/><text x="49.1" y="555.6" fill="#131722" font-size="20.3" font-weight="700" letter-spacing="0.05">TradingView</text><path d="M1070.9,538.5 A9.1,9.1 0 1 0 1068.6,531.2" fill="none" stroke="#9046cc" stroke-width="1.5"/><path d="M1080.7,527.6 L1074.4,533.3 L1081,532.8 L1074.8,537.4" fill="none" stroke="#9046cc" stroke-width="1.6" stroke-linejoin="miter"/><path d="M1066.9,530.6 Q1067.6,535 1071.9,535.7 Q1067.6,536.4 1066.9,540.8 Q1066.2,536.4 1061.9,535.7 Q1066.2,535 1066.9,530.6 Z" fill="#6b5cf6"/><circle cx="1077.0" cy="556.8" r="9.7" fill="#fff" stroke="#e0514f" stroke-width="1.7"/><clipPath id="fc1077"><circle cx="1077.0" cy="556.8" r="8"/></clipPath><g clip-path="url(#fc1077)"><rect x="1069.0" y="548.5999999999999" width="16" height="3.6" fill="#e0514f"/><rect x="1069.0" y="555.0999999999999" width="16" height="3.7" fill="#e0514f"/><rect x="1069.0" y="561.8" width="16" height="4" fill="#e0514f"/><rect x="1068.7" y="548.5999999999999" width="10.1" height="10.2" fill="#3d8de6"/><rect x="1069.7" y="549.8" width="1" height="1" fill="#dfeafc"/><rect x="1069.7" y="552.4" width="1" height="1" fill="#dfeafc"/><rect x="1069.7" y="555.0" width="1" height="1" fill="#dfeafc"/><rect x="1072.1" y="549.8" width="1" height="1" fill="#dfeafc"/><rect x="1072.1" y="552.4" width="1" height="1" fill="#dfeafc"/><rect x="1072.1" y="555.0" width="1" height="1" fill="#dfeafc"/><rect x="1074.5" y="549.8" width="1" height="1" fill="#dfeafc"/><rect x="1074.5" y="552.4" width="1" height="1" fill="#dfeafc"/><rect x="1074.5" y="555.0" width="1" height="1" fill="#dfeafc"/><rect x="1076.9" y="549.8" width="1" height="1" fill="#dfeafc"/><rect x="1076.9" y="552.4" width="1" height="1" fill="#dfeafc"/><rect x="1076.9" y="555.0" width="1" height="1" fill="#dfeafc"/></g><circle cx="1149.0" cy="556.8" r="9.7" fill="#fff" stroke="#e0514f" stroke-width="1.7"/><clipPath id="fc1149"><circle cx="1149.0" cy="556.8" r="8"/></clipPath><g clip-path="url(#fc1149)"><rect x="1141.0" y="548.5999999999999" width="16" height="3.6" fill="#e0514f"/><rect x="1141.0" y="555.0999999999999" width="16" height="3.7" fill="#e0514f"/><rect x="1141.0" y="561.8" width="16" height="4" fill="#e0514f"/><rect x="1140.7" y="548.5999999999999" width="10.1" height="10.2" fill="#3d8de6"/><rect x="1141.7" y="549.8" width="1" height="1" fill="#dfeafc"/><rect x="1141.7" y="552.4" width="1" height="1" fill="#dfeafc"/><rect x="1141.7" y="555.0" width="1" height="1" fill="#dfeafc"/><rect x="1144.1" y="549.8" width="1" height="1" fill="#dfeafc"/><rect x="1144.1" y="552.4" width="1" height="1" fill="#dfeafc"/><rect x="1144.1" y="555.0" width="1" height="1" fill="#dfeafc"/><rect x="1146.5" y="549.8" width="1" height="1" fill="#dfeafc"/><rect x="1146.5" y="552.4" width="1" height="1" fill="#dfeafc"/><rect x="1146.5" y="555.0" width="1" height="1" fill="#dfeafc"/><rect x="1148.9" y="549.8" width="1" height="1" fill="#dfeafc"/><rect x="1148.9" y="552.4" width="1" height="1" fill="#dfeafc"/><rect x="1148.9" y="555.0" width="1" height="1" fill="#dfeafc"/></g><path d="M1292.5,584.2 L1295.9,578.2 H1303.1 L1306.5,584.2 L1303.1,590.2 H1295.9 Z" fill="none" stroke="#131722" stroke-width="1.1"/><circle cx="1299.5" cy="584.2" r="2.4" fill="none" stroke="#131722" stroke-width="1.1"/><rect x="0" y="598" width="1335" height="1" fill="#e8e8e9"/><text x="15.7" y="624" fill="#131722" font-size="13.3">1D</text><text x="45.6" y="624" fill="#131722" font-size="13.3">5D</text><text x="77" y="624" fill="#131722" font-size="13.3">1M</text><text x="109.9" y="624" fill="#131722" font-size="13.3">3M</text><text x="142" y="624" fill="#131722" font-size="13.3">6M</text><text x="175.6" y="624" fill="#131722" font-size="13.3">YTD</text><text x="216" y="624" fill="#131722" font-size="13.3">1Y</text><text x="245" y="624" fill="#131722" font-size="13.3">5Y</text><text x="274.5" y="624" fill="#131722" font-size="13.3">All</text><rect x="301" y="607" width="1" height="22" fill="#e8e8e9"/><path d="M316.9,616.5 V612 Q316.9,610.6 318.3,610.6 H332.2 Q333.6,610.6 333.6,612 V624.2 Q333.6,625.6 332.2,625.6 H325.2 M316.9,614.3 H333.6 M321.3,608.3 V611 M328.5,608.3 V611 M315.1,622.2 H322.9 M319.8,619 L322.9,622.2 L319.8,625.4" fill="none" stroke="#131722" stroke-width="1.1"/><text x="1232.8" y="623" fill="#131722" font-size="14.6">12:35:33 UTC</text>
</svg>
</div></body></html>
